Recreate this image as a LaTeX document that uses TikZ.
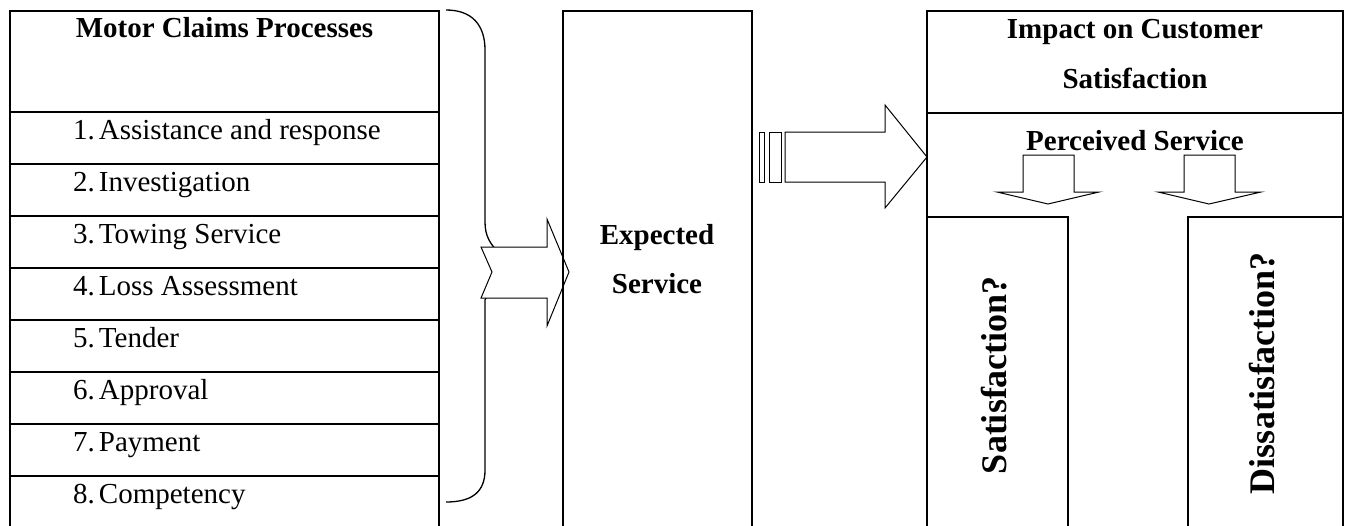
\documentclass[tikz,border=0pt]{standalone}
\usepackage{fontspec}
\setmainfont{Liberation Serif}
\begin{document}
\begin{tikzpicture}[x=1pt,y=-1pt,
  frame/.style={line width=2pt, line cap=rect},
  blockarrow/.style={line width=1pt, fill=white, line join=miter},
  bracestyle/.style={line width=1.3pt},
  item/.style={anchor=base west, inner sep=0pt, font=\fontsize{29}{34}\selectfont},
  head/.style={anchor=base, inner sep=0pt, font=\fontsize{29}{34}\selectfont\bfseries},
  vert/.style={rotate=90, inner sep=0pt, font=\fontsize{36}{40}\selectfont\bfseries}]
\useasboundingbox (0,0) rectangle (1348,525);

% brace
\draw[bracestyle] (446,10) .. controls (472,10) and (485,25) .. (485,50) -- (485,222)
  .. controls (485,236) and (490,244) .. (500,254) -- (515,272);
\draw[bracestyle] (515,272) -- (490,290) -- (485,300) -- (485,470)
  .. controls (485,492) and (472,502) .. (446,502);

% notched arrow
\draw[blockarrow] (481,247) -- (547,247) -- (547,219) -- (569,272) -- (547,326) -- (547,298)
  -- (481,298) -- (492,272) -- cycle;

% striped arrow
\draw[blockarrow] (759,132) rectangle (764,182);
\draw[blockarrow] (769,132) rectangle (781,182);
\draw[blockarrow] (785,132) -- (885,132) -- (885,105) -- (927,157) -- (885,208) -- (885,182)
  -- (785,182) -- cycle;

% down arrows
\draw[blockarrow] (1023,155) -- (1074,155) -- (1074,192) -- (1099,192) -- (1048,204)
  -- (997,192) -- (1023,192) -- cycle;
\draw[blockarrow] (1184,155) -- (1235,155) -- (1235,192) -- (1261,192) -- (1209,204)
  -- (1158,192) -- (1184,192) -- cycle;

% frames
\draw[frame] (10,525) -- (10,11) -- (439,11) -- (439,525);
\foreach \y in {112,164,216,268,320,372,424,476} \draw[frame] (10,\y) -- (439,\y);
\draw[frame] (563,525) -- (563,11) -- (752,11) -- (752,525);
\draw[frame] (927,525) -- (927,11) -- (1343,11) -- (1343,525);
\draw[frame] (927,113) -- (1343,113);
\draw[frame] (927,217) -- (1068,217) -- (1068,525);
\draw[frame] (1343,217) -- (1188,217) -- (1188,525);

% texts
\node[head] (mcp) at (224.5,37) {Motor Claims Processes};
\node[item] (i1) at (73,139) {1.\hspace{4pt}Assistance and response};
\node[item] (i2) at (73,191) {2.\hspace{4pt}Investigation};
\node[item] (i3) at (73,243) {3.\hspace{4pt}Towing Service};
\node[item] (i4) at (73,295) {4.\hspace{4pt}Loss Assessment};
\node[item] (i5) at (73,347) {5.\hspace{4pt}Tender};
\node[item] (i6) at (73,399) {6.\hspace{4pt}Approval};
\node[item] (i7) at (73,451) {7.\hspace{4pt}Payment};
\node[item] (i8) at (73,503) {8.\hspace{4pt}Competency};

\node[head] (exp1) at (657,244) {Expected};
\node[head] (exp2) at (657,293) {Service};

\node[head] (imp1) at (1135,38) {Impact on Customer};
\node[head] (imp2) at (1135,88) {Satisfaction};
\node[head] (perc) at (1135,150) {Perceived Service};

\node[vert] (sat) at (994,375) {Satisfaction?};
\node[vert] (dis) at (1262,373) {Dissatisfaction?};
\end{tikzpicture}
\end{document}
